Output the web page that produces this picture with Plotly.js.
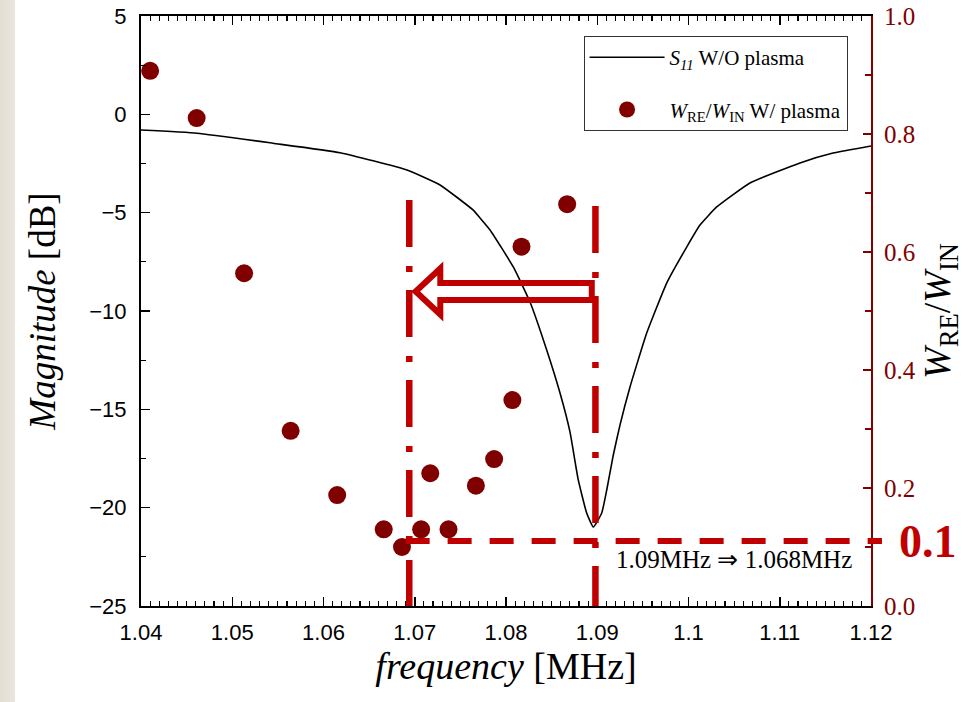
<!DOCTYPE html>
<html>
<head>
<meta charset="utf-8">
<script src="https://cdn.plot.ly/plotly-3.0.1.min.js"></script>
<style>
  html, body { margin: 0; padding: 0; background: #ffffff; }
  #chart { width: 971px; height: 702px;
    background: linear-gradient(to right, #e4dfd4 0px, #e9e5dc 15px, #ffffff 15px, #ffffff 100%); }
</style>
</head>
<body>
<div id="chart"></div>
<script>
// ---- S11 without plasma (dB) ----
const freqS11 = [1.04000, 1.04614, 1.05447, 1.06181, 1.06915, 1.07277, 1.07638, 1.07715, 1.07825, 1.08080,
                 1.08263, 1.08446, 1.08592, 1.08701, 1.08792, 1.08884, 1.08957, 1.09049, 1.09104, 1.09176,
                 1.09249, 1.09359, 1.09542, 1.09761, 1.09980, 1.10126, 1.10309, 1.10674, 1.11222, 1.11584,
                 1.12000];
const s11dB   = [-0.80, -0.96, -1.47, -1.95, -2.83, -3.59, -4.86, -5.27, -5.88, -7.76,
                 -9.54, -11.98, -14.17, -16.15, -18.59, -20.27, -20.98, -20.27, -19.10, -17.32,
                 -15.80, -13.86, -11.12, -8.58, -6.75, -5.63, -4.71, -3.49, -2.47, -1.97,
                 -1.61];

// ---- W_RE / W_IN with plasma ----
const freqPlasma  = [1.0410, 1.0461, 1.0513, 1.0564, 1.0615, 1.0666, 1.0686, 1.0707, 1.0717, 1.0737,
                     1.0767, 1.0787, 1.0807, 1.0817, 1.0867];
const ratioPlasma = [0.907, 0.827, 0.564, 0.297, 0.188, 0.130, 0.100, 0.130, 0.225, 0.130,
                     0.204, 0.249, 0.349, 0.609, 0.681];

// ---- tick labels ----
const xTickVals = [1.04, 1.05, 1.06, 1.07, 1.08, 1.09, 1.10, 1.11, 1.12];
const xTickText = ['1.04', '1.05', '1.06', '1.07', '1.08', '1.09', '1.1', '1.11', '1.12'];
const yTickVals = [-25, -20, -15, -10, -5, 0, 5];
const y2TickVals = [0.0, 0.2, 0.4, 0.6, 0.8, 1.0];
const y2TickText = ['0.0', '0.2', '0.4', '0.6', '0.8', '1.0'];

// ---- annotation values ----
const resonantFreq = 1.0898;   // S11 dip (1.09 MHz)
const shiftedFreq = 1.0694;    // shifted resonance (1.068 MHz)
const resonantLineTop = -4.66; // dB
const shiftedLineTop = -4.36;  // dB
const thresholdRatio = 0.11;   // dashed level labelled 0.1
const thresholdEndFreq = 1.1212;
const arrowLevel = 0.533;      // W_RE/W_IN level of arrow axis
const arrowTip = 1.0701, arrowHeadBase = 1.0728, arrowTail = 1.0894;
const arrowHeadHalf = 0.039, arrowShaftHalf = 0.0144;

const xRange = [1.04, 1.12], yRange = [-25, 5], y2Range = [0, 1];
const RED = '#c00000', MAROON = '#800000';
const SERIF = 'Liberation Serif, Times New Roman, serif';
const SANS = 'Liberation Sans, Arial, sans-serif';

const xToPaper = v => (v - xRange[0]) / (xRange[1] - xRange[0]);
const y2ToPaper = v => (v - y2Range[0]) / (y2Range[1] - y2Range[0]);

const traces = [
  { x: freqS11, y: s11dB, type: 'scatter', mode: 'lines', yaxis: 'y',
    line: { color: '#000000', width: 1.6, shape: 'spline', smoothing: 0.4 },
    name: '<i>S<sub>11</sub></i> W/O plasma', legendgroup: 'a' },
  { x: freqPlasma, y: ratioPlasma, type: 'scatter', mode: 'markers', yaxis: 'y2',
    marker: { color: MAROON, size: 18 },
    name: '<i>W</i><sub>RE</sub>/<i>W</i><sub>IN</sub> W/ plasma', legendgroup: 'b' }
];

const aY = arrowLevel;
const arrowPath = 'M' + arrowTip + ',' + aY +
  ' L' + arrowHeadBase + ',' + (aY + arrowHeadHalf) +
  ' L' + arrowHeadBase + ',' + (aY + arrowShaftHalf) +
  ' L' + arrowTail + ',' + (aY + arrowShaftHalf) +
  ' L' + arrowTail + ',' + (aY - arrowShaftHalf) +
  ' L' + arrowHeadBase + ',' + (aY - arrowShaftHalf) +
  ' L' + arrowHeadBase + ',' + (aY - arrowHeadHalf) + ' Z';

const layout = {
  width: 971, height: 702,
  margin: { l: 141, r: 100, t: 16, b: 96 },
  paper_bgcolor: 'rgba(0,0,0,0)',
  plot_bgcolor: '#ffffff',
  showlegend: true,
  legend: {
    x: xToPaper(1.0885), y: 0.966, xanchor: 'left', yanchor: 'top',
    bgcolor: '#ffffff', bordercolor: '#333333', borderwidth: 1,
    font: { family: SERIF, size: 21, color: '#000000' },
    tracegroupgap: 22, itemwidth: 75
  },
  xaxis: {
    range: xRange, tickmode: 'array', tickvals: xTickVals, ticktext: xTickText,
    ticks: 'inside', ticklen: 9, tickwidth: 1.5, tickcolor: '#000000',
    minor: { dtick: 0.001, ticks: 'inside', ticklen: 5, tickwidth: 1.2, tickcolor: '#000000' },
    showline: true, linecolor: '#000000', linewidth: 2, mirror: 'ticks',
    showgrid: false, zeroline: false,
    tickfont: { family: SANS, size: 22, color: '#000000' },
    ticklabelstandoff: 6,
    title: { text: '<i>frequency</i> [MHz]', font: { family: SERIF, size: 38, color: '#000000' }, standoff: 8 }
  },
  yaxis: {
    range: yRange, tickmode: 'array', tickvals: yTickVals,
    ticks: 'inside', ticklen: 9, tickwidth: 1.5, tickcolor: '#000000',
    minor: { dtick: 2.5, ticks: 'inside', ticklen: 5, tickwidth: 1.2, tickcolor: '#000000' },
    showline: true, linecolor: '#000000', linewidth: 2,
    showgrid: false, zeroline: false,
    tickfont: { family: SANS, size: 22, color: '#000000' },
    ticklabelstandoff: 8,
    title: { text: '<i>Magnitude</i> [dB]', font: { family: SERIF, size: 37, color: '#000000' }, standoff: 22 }
  },
  yaxis2: {
    range: y2Range, overlaying: 'y', side: 'right', tickmode: 'array',
    tickvals: y2TickVals, ticktext: y2TickText,
    ticks: 'inside', ticklen: 8, tickwidth: 1.5, tickcolor: MAROON,
    minor: { dtick: 0.1, ticks: 'inside', ticklen: 6, tickwidth: 1.2, tickcolor: MAROON },
    showline: true, linecolor: MAROON, linewidth: 2,
    showgrid: false, zeroline: false,
    tickfont: { family: SERIF, size: 25, color: MAROON },
    ticklabelstandoff: 6,
    title: { text: '<i>W</i><sub>RE</sub>/<i>W</i><sub>IN</sub>', font: { family: SERIF, size: 38, color: '#000000' }, standoff: 6 }
  },
  shapes: [
    { type: 'line', xref: 'x', yref: 'y', x0: resonantFreq, x1: resonantFreq, y0: resonantLineTop, y1: yRange[0],
      line: { color: RED, width: 6.5, dash: '47px,19px,6px,18px' }, layer: 'above' },
    { type: 'line', xref: 'x', yref: 'y', x0: shiftedFreq, x1: shiftedFreq, y0: shiftedLineTop, y1: yRange[0],
      line: { color: RED, width: 6.5, dash: '47px,19px,6px,18px' }, layer: 'above' },
    { type: 'line', xref: 'paper', yref: 'paper',
      x0: xToPaper(shiftedFreq - 0.0004), x1: xToPaper(thresholdEndFreq),
      y0: y2ToPaper(thresholdRatio), y1: y2ToPaper(thresholdRatio),
      line: { color: RED, width: 6, dash: '24px,18px' }, layer: 'above' },
    { type: 'path', xref: 'x', yref: 'y2', path: arrowPath,
      line: { color: RED, width: 6 }, fillcolor: 'rgba(0,0,0,0)', layer: 'above' }
  ],
  annotations: [
    { xref: 'paper', yref: 'paper', x: xToPaper(1.1262), y: y2ToPaper(thresholdRatio),
      text: '<b>0.1</b>', showarrow: false, xanchor: 'center', yanchor: 'middle',
      font: { family: SERIF, size: 46, color: RED } },
    { xref: 'paper', yref: 'paper', x: xToPaper(1.1050), y: y2ToPaper(0.078),
      text: '1.09MHz ⇒ 1.068MHz', showarrow: false, xanchor: 'center', yanchor: 'middle',
      font: { family: SERIF, size: 25, color: '#000000' } }
  ]
};

Plotly.newPlot('chart', traces, layout, { displayModeBar: false, staticPlot: true });
</script>
</body>
</html>
